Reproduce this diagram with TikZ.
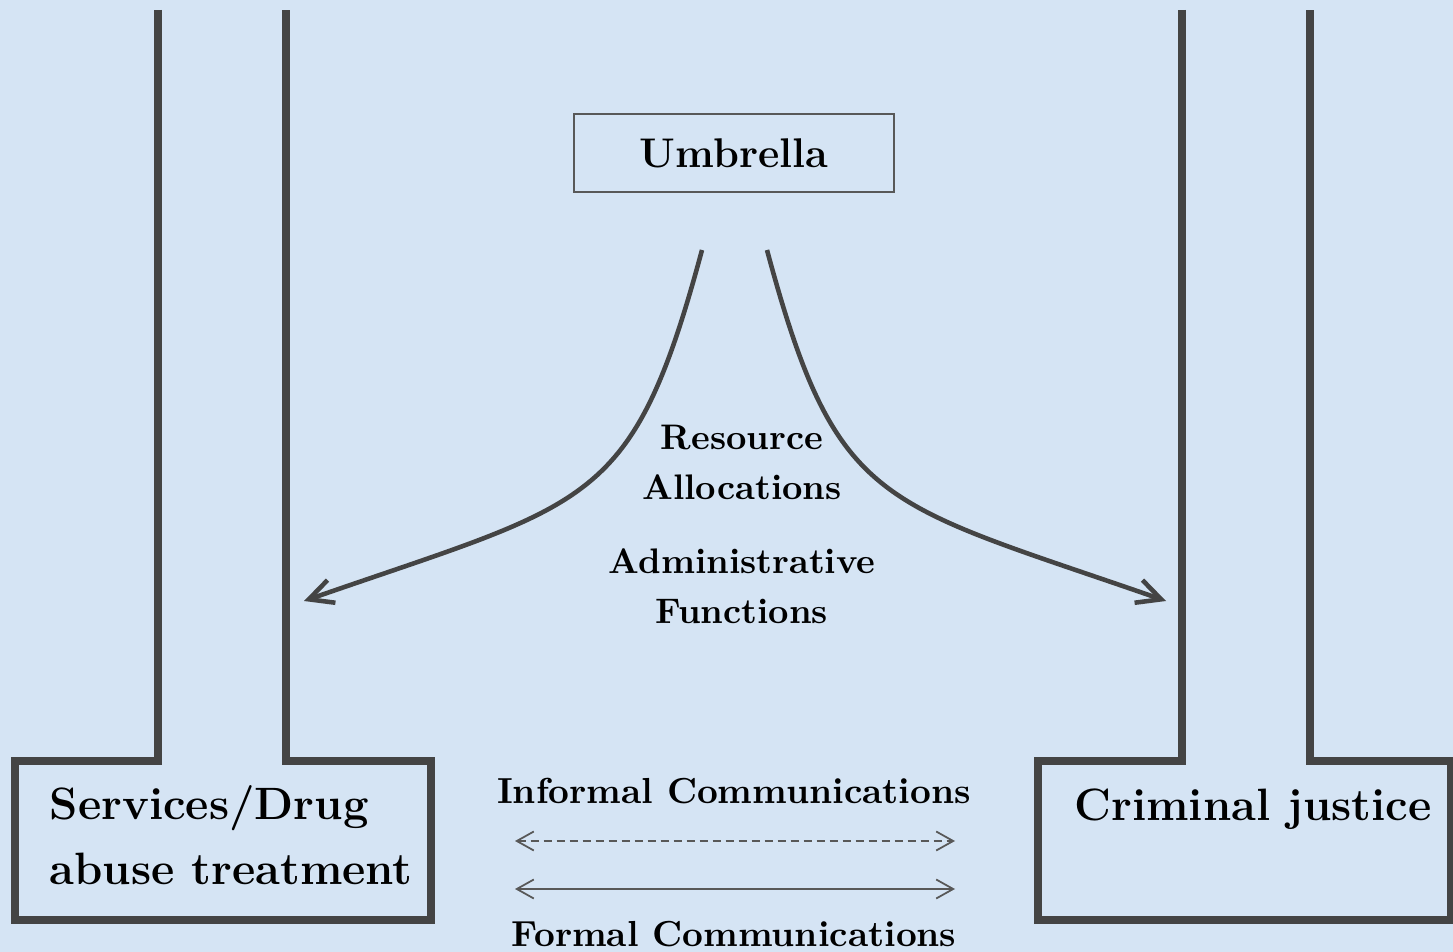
\documentclass[tikz,border=0pt]{standalone}
\usepackage{tikz}
\usetikzlibrary{positioning}
\usetikzlibrary{arrows.meta}
\usepackage{xcolor}
\definecolor{hgblau}{RGB}{213,228,244}
\definecolor{dunkelgrau}{RGB}{68,68,68}
\definecolor{mittelgrau}{RGB}{88,88,88}

\begin{document}
\begin{tikzpicture}[x=0.1mm, y=-0.1mm]

	\def\yoben{10}
	\def\ykasten{761}
	\def\yunten{920}
	% Stile
	\tikzset{saeule/.style={draw=dunkelgrau, line width=2.3pt, line join=miter},
		pfeil/.style={draw=dunkelgrau, line width=1.3pt, -{Straight Barb[length=2.4mm,width=2.4mm]}},
		komm/.style={draw=mittelgrau, line width=0.5pt, {Straight Barb[length=1.7mm,width=1.9mm]}-{Straight Barb[length=1.7mm,width=1.9mm]}},
		klein/.style={font=\bfseries\fontsize{10.1}{14.2}\selectfont, align=center, inner sep=0pt},
		gross/.style={font=\bfseries\fontsize{12.9}{18.5}\selectfont, inner sep=0pt}}

	% Hintergrund
	\fill[hgblau] (0,0) rectangle (1453,952);
	\useasboundingbox (0,0) rectangle (1453,952);

	% linke Saeule
	\draw[saeule] (158,\yoben) -- (158,\ykasten) -- (15,\ykasten) -- (15,\yunten)
		-- (431,\yunten) -- (431,\ykasten) -- (286,\ykasten) -- (286,\yoben);
	% rechte Saeule
	\draw[saeule] (1182,\yoben) -- (1182,\ykasten) -- (1038,\ykasten) -- (1038,\yunten)
		-- (1451,\yunten) -- (1451,\ykasten) -- (1310,\ykasten) -- (1310,\yoben);

	% Dach
	\node[draw=mittelgrau, line width=0.45pt, minimum width=32mm, minimum height=7.8mm,
		inner sep=0pt, font=\bfseries\fontsize{11.8}{14}\selectfont] (umb) at (734,153) {Umbrella};

	% Texte
	\node[gross, anchor=west, align=left] (svc) at (49,835) {Services/Drug\\abuse treatment};
	\node[gross, anchor=base] (crim) at (1253,820) {Criminal justice};
	\node[klein] (res) at (742,462) {Resource\\Allocations};
	\node[klein] (adm) at (742,586) {Administrative\\Functions};
	\node[klein, anchor=base, font=\bfseries\fontsize{10.3}{12}\selectfont] (inf) at (734,803) {Informal Communications};
	\node[klein, anchor=base, font=\bfseries\fontsize{10.3}{12}\selectfont] (form) at (734,946) {Formal Communications};

	% Kurven
	\coordinate (l0) at (702,250);
	\coordinate (l1) at (304,601);
	\coordinate (r0) at (767,250);
	\coordinate (r1) at (1166,601);
	\draw[pfeil] (l0) .. controls (632,510) and (591,501) .. (l1);
	\draw[pfeil] (r0) .. controls (837,510) and (879,501) .. (r1);

	% Kommunikation
	\coordinate (i1) at (515,841);
	\coordinate (i2) at (955,841);
	\coordinate (f1) at (515,889);
	\coordinate (f2) at (955,889);
	\draw[komm, dash pattern=on 0.8mm off 0.5mm] (i1) -- (i2);
	\draw[komm] (f1) -- (f2);

\end{tikzpicture}
\end{document}
